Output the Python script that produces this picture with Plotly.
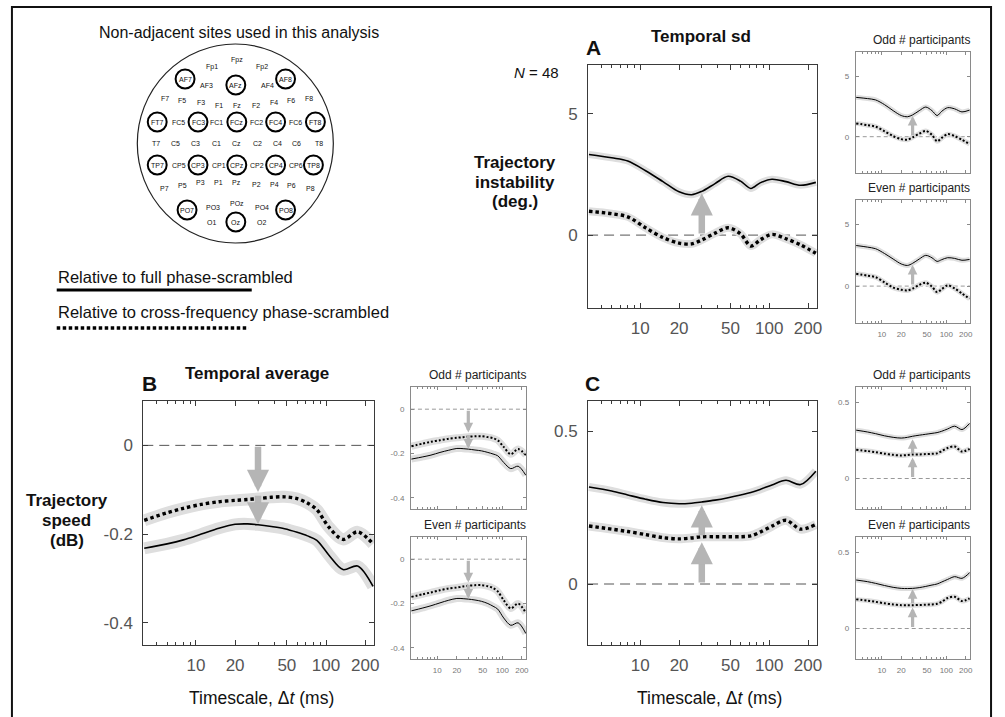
import math
import plotly.graph_objects as go

W, H = 1005, 717
FONT = "Liberation Sans, Arial, Helvetica, sans-serif"

# ---------------- data ----------------
timescale_ms = [4, 6, 8, 11, 15, 20, 25, 30, 38, 48, 60, 72, 85, 105, 135, 175, 230]

# Panel A (temporal sd, trajectory instability, deg.)
A_full = [3.32, 3.18, 3.05, 2.65, 2.2, 1.78, 1.66, 1.8, 2.12, 2.42, 2.22, 1.92, 2.15, 2.3, 2.2, 2.05, 2.17]
A_cross = [0.98, 0.88, 0.75, 0.3, -0.1, -0.33, -0.36, -0.2, 0.08, 0.3, 0.05, -0.45, -0.2, 0.03, -0.15, -0.4, -0.75]
A_full_odd = [3.25, 3.15, 3.04, 2.65, 2.15, 1.75, 1.65, 1.8, 2.15, 2.45, 2.15, 1.75, 2.1, 2.4, 2.3, 2.05, 2.2]
A_cross_odd = [1.1, 0.95, 0.83, 0.45, 0.05, -0.2, -0.25, -0.05, 0.25, 0.48, 0.15, -0.38, -0.1, 0.21, 0.05, -0.25, -0.6]
A_full_even = [3.3, 3.17, 3.04, 2.65, 2.2, 1.8, 1.68, 1.85, 2.2, 2.5, 2.3, 2.01, 2.15, 2.31, 2.25, 2.1, 2.17]
A_cross_even = [1.0, 0.85, 0.73, 0.3, -0.12, -0.3, -0.35, -0.2, 0.1, 0.28, -0.05, -0.49, -0.25, 0.06, -0.2, -0.6, -1.03]

# Panel B (temporal average, trajectory speed, dB)
B_full = [-0.232, -0.222, -0.213, -0.2, -0.187, -0.178, -0.177, -0.179, -0.183, -0.188, -0.196, -0.204, -0.214, -0.247, -0.28, -0.272, -0.318]
B_cross = [-0.169, -0.152, -0.142, -0.133, -0.127, -0.124, -0.122, -0.12, -0.117, -0.116, -0.12, -0.13, -0.145, -0.184, -0.212, -0.195, -0.222]
B_full_odd = [-0.225, -0.215, -0.207, -0.195, -0.185, -0.177, -0.178, -0.18, -0.184, -0.188, -0.195, -0.202, -0.21, -0.24, -0.268, -0.257, -0.298]
B_cross_odd = [-0.167, -0.155, -0.147, -0.14, -0.133, -0.129, -0.126, -0.124, -0.122, -0.122, -0.126, -0.131, -0.14, -0.17, -0.203, -0.18, -0.207]
B_full_even = [-0.233, -0.22, -0.21, -0.197, -0.185, -0.177, -0.178, -0.18, -0.184, -0.19, -0.2, -0.212, -0.225, -0.265, -0.298, -0.287, -0.335]
B_cross_even = [-0.17, -0.158, -0.15, -0.14, -0.132, -0.128, -0.123, -0.12, -0.117, -0.117, -0.122, -0.13, -0.145, -0.185, -0.222, -0.2, -0.242]

# Panel C
C_full = [0.318, 0.305, 0.292, 0.278, 0.267, 0.263, 0.265, 0.269, 0.275, 0.283, 0.292, 0.3, 0.31, 0.325, 0.34, 0.326, 0.37]
C_cross = [0.19, 0.18, 0.172, 0.162, 0.152, 0.148, 0.151, 0.155, 0.155, 0.155, 0.155, 0.158, 0.17, 0.19, 0.209, 0.18, 0.195]
C_full_odd = [0.317, 0.305, 0.294, 0.28, 0.27, 0.265, 0.27, 0.277, 0.284, 0.29, 0.296, 0.301, 0.31, 0.325, 0.343, 0.321, 0.361]
C_cross_odd = [0.188, 0.18, 0.173, 0.163, 0.155, 0.151, 0.154, 0.157, 0.158, 0.16, 0.162, 0.165, 0.18, 0.2, 0.21, 0.177, 0.195]
C_full_even = [0.318, 0.307, 0.296, 0.282, 0.27, 0.263, 0.262, 0.263, 0.268, 0.276, 0.285, 0.292, 0.305, 0.322, 0.34, 0.329, 0.366]
C_cross_even = [0.191, 0.183, 0.175, 0.165, 0.158, 0.153, 0.153, 0.153, 0.154, 0.156, 0.158, 0.162, 0.175, 0.2, 0.208, 0.18, 0.197]

# arrows at dt = 30 ms: (tail, tip)
arrow_dt = 30
A_arrows = [(0, 1.72)]
B_arrows = [(0, -0.105), (-0.11, -0.178)]
C_arrows = [(0, 0.137), (0.155, 0.258)]

x_ticks = [10, 20, 50, 100, 200]
x_minor = [4, 5, 6, 7, 8, 9, 30, 40, 60, 70, 80, 90]
A_yticks, A_ylabels = [0, 5], ["0", "5"]
B_yticks, B_ylabels = [0, -0.2, -0.4], ["0", "-0.2", "-0.4"]
C_yticks, C_ylabels = [0, 0.5], ["0", "0.5"]

electrode_rows = [
    ["Fp1", "Fpz", "Fp2"],
    ["AF7", "AF3", "AFz", "AF4", "AF8"],
    ["F7", "F5", "F3", "F1", "Fz", "F2", "F4", "F6", "F8"],
    ["FT7", "FC5", "FC3", "FC1", "FCz", "FC2", "FC4", "FC6", "FT8"],
    ["T7", "C5", "C3", "C1", "Cz", "C2", "C4", "C6", "T8"],
    ["TP7", "CP5", "CP3", "CP1", "CPz", "CP2", "CP4", "CP6", "TP8"],
    ["P7", "P5", "P3", "P1", "Pz", "P2", "P4", "P6", "P8"],
    ["PO7", "PO3", "POz", "PO4", "PO8"],
    ["O1", "Oz", "O2"],
]
used_sites = ["AF7", "AFz", "AF8", "FT7", "FC3", "FCz", "FC4", "FT8",
              "TP7", "CP3", "CPz", "CP4", "TP8", "PO7", "PO8", "Oz"]

# ---------------- layout helpers ----------------
def px(x):
    return x / W

def py(y):
    return 1 - y / H

# electrode drawing positions (pixels), layout only
row_pos = [
    [(213, 67), (238, 60), (263, 67)],
    [(186, 79), (208, 86), (237, 85), (269, 86), (287, 79)],
    [(166, 99), (183, 100), (202, 103), (220, 105), (238, 105), (257, 105), (275, 103), (292, 100), (311, 99)],
    [(158, 122), (179, 122), (199, 122), (218, 122), (238, 122), (258, 122), (277, 122), (297, 122), (317, 122)],
    [(157, 143), (176, 143), (196, 143), (218, 143), (238, 143), (259, 143), (279, 143), (298, 143), (321, 143)],
    [(158, 165), (180, 165), (199, 165), (220, 165), (238, 165), (258, 165), (277, 165), (297, 165), (315, 165)],
    [(165, 188), (183, 185), (202, 183), (220, 183), (238, 183), (258, 184), (276, 184), (293, 185), (312, 188)],
    [(188, 210), (214, 207), (238, 203), (263, 207), (287, 210)],
    [(213, 222), (237, 222), (263, 222)],
]

XR = [0.595, 2.37]

panels = [
    dict(x=(591, 821), y=(65, 308), yr=[-3, 7], yt=A_yticks, yl=A_ylabels, full=A_full, cross=A_cross, arrows=A_arrows, main=True, halo=(7, 8)),
    dict(x=(860, 975), y=(52, 173), yr=[-3, 7], yt=A_yticks, yl=A_ylabels, full=A_full_odd, cross=A_cross_odd, arrows=A_arrows, main=False, halo=(5, 5), title="Odd # participants", xlab=False),
    dict(x=(860, 975), y=(200, 323), yr=[-3, 7], yt=A_yticks, yl=A_ylabels, full=A_full_even, cross=A_cross_even, arrows=A_arrows, main=False, halo=(5, 5), title="Even # participants", xlab=True),
    dict(x=(144, 376), y=(401, 645), yr=[-0.45, 0.1], yt=B_yticks, yl=B_ylabels, full=B_full, cross=B_cross, arrows=B_arrows, main=True, halo=(12, 12)),
    dict(x=(413, 529), y=(387, 509), yr=[-0.45, 0.1], yt=B_yticks, yl=B_ylabels, full=B_full_odd, cross=B_cross_odd, arrows=B_arrows, main=False, halo=(7, 7), title="Odd # participants", xlab=False),
    dict(x=(413, 529), y=(537, 659), yr=[-0.45, 0.1], yt=B_yticks, yl=B_ylabels, full=B_full_even, cross=B_cross_even, arrows=B_arrows, main=False, halo=(7, 7), title="Even # participants", xlab=True),
    dict(x=(591, 821), y=(401, 645), yr=[-0.2, 0.6], yt=C_yticks, yl=C_ylabels, full=C_full, cross=C_cross, arrows=C_arrows, main=True, halo=(8, 9)),
    dict(x=(860, 975), y=(387, 509), yr=[-0.2, 0.6], yt=C_yticks, yl=C_ylabels, full=C_full_odd, cross=C_cross_odd, arrows=C_arrows, main=False, halo=(5, 5), title="Odd # participants", xlab=False),
    dict(x=(860, 975), y=(537, 659), yr=[-0.2, 0.6], yt=C_yticks, yl=C_ylabels, full=C_full_even, cross=C_cross_even, arrows=C_arrows, main=False, halo=(5, 5), title="Even # participants", xlab=True),
]

fig = go.Figure()
layout = {}
shapes = []
annotations = []

for i, p in enumerate(panels):
    k = "" if i == 0 else str(i + 1)
    xa, ya = "x" + k, "y" + k
    main = p["main"]
    axcol = "#3a3a3a" if main else "#8a8a8a"
    tkcol = "#555555" if main else "#777777"
    tfs = 17 if main else 8
    tl = 5 if main else 3
    show_xlab = main or p.get("xlab", False)
    layout["xaxis" + k] = dict(
        domain=[px(p["x"][0]), px(p["x"][1])], anchor=ya, type="log", range=XR,
        tickmode="array", tickvals=x_ticks, ticktext=[str(v) for v in x_ticks],
        showticklabels=show_xlab, ticks="inside", ticklen=tl, tickcolor=axcol, tickwidth=1,
        minor=dict(tickmode="array", tickvals=x_minor, ticks="inside", ticklen=max(2, tl - 2), tickcolor=axcol),
        showline=True, linecolor=axcol, linewidth=1, mirror="ticks",
        showgrid=False, zeroline=False,
        tickfont=dict(family=FONT, size=tfs, color=tkcol),
        ticklabelstandoff=5 if main else 3,
    )
    layout["yaxis" + k] = dict(
        domain=[py(p["y"][1]), py(p["y"][0])], anchor=xa, range=p["yr"],
        tickmode="array", tickvals=p["yt"], ticktext=p["yl"],
        ticks="inside", ticklen=tl, tickcolor=axcol, tickwidth=1,
        showline=True, linecolor=axcol, linewidth=1, mirror="ticks",
        showgrid=False, zeroline=False,
        tickfont=dict(family=FONT, size=tfs, color=tkcol),
        ticklabelstandoff=6 if main else 4,
    )
    shapes.append(dict(type="line", xref=xa + " domain", yref=ya, x0=0, x1=1, y0=0, y1=0,
                       line=dict(color="#555555" if main else "#999999", width=1,
                                 dash="10px,6px" if main else "4px,3px"), layer="below"))
    hw_full, hw_cross = p["halo"]
    lw_full = 1.6 if main else 1.0
    lw_cross = 3.4 if main else 2
    dot_main = "3.4px,3px" if main else "2px,2px"
    for vals, hw, lw, dash in ((p["full"], hw_full, lw_full, "solid"), (p["cross"], hw_cross, lw_cross, dot_main)):
        fig.add_trace(go.Scatter(x=timescale_ms, y=vals, xaxis=xa, yaxis=ya, mode="lines",
                                 line=dict(color="#dedede", width=hw, shape="spline", smoothing=0.9),
                                 hoverinfo="skip", showlegend=False))
        fig.add_trace(go.Scatter(x=timescale_ms, y=vals, xaxis=xa, yaxis=ya, mode="lines",
                                 line=dict(color="black", width=lw, dash=dash, shape="spline", smoothing=0.9),
                                 showlegend=False))
    for tail, tip in p["arrows"]:
        annotations.append(dict(x=math.log10(arrow_dt), y=tip, ax=math.log10(arrow_dt), ay=tail,
                                xref=xa, yref=ya, axref=xa, ayref=ya, text="", showarrow=True,
                                arrowhead=2, arrowcolor="#b5b5b5",
                                arrowwidth=6.5 if main else 3.2,
                                arrowsize=0.68 if main else 0.6,
                                standoff=0, startstandoff=0))
    if not main:
        annotations.append(dict(x=px(p["x"][1] + 2), y=py(p["y"][0] - 12), xref="paper", yref="paper",
                                text=p["title"], showarrow=False, xanchor="right", yanchor="middle",
                                font=dict(family=FONT, size=12, color="#222")))

# ---------------- text ----------------
def txt(x, y, t, size, bold=False, xanchor="center", color="#111"):
    annotations.append(dict(x=px(x), y=py(y), xref="paper", yref="paper", text=("<b>%s</b>" % t) if bold else t,
                            showarrow=False, xanchor=xanchor, yanchor="middle",
                            font=dict(family=FONT, size=size, color=color)))

txt(240, 33, "Non-adjacent sites used in this analysis", 16)
txt(56, 277, "Relative to full phase-scrambled", 16.5, xanchor="left")
txt(56, 312, "Relative to cross-frequency phase-scrambled", 16.5, xanchor="left")
shapes.append(dict(type="line", xref="paper", yref="paper", x0=px(57), x1=px(253), y0=py(290), y1=py(290),
                   line=dict(color="black", width=3)))
shapes.append(dict(type="line", xref="paper", yref="paper", x0=px(57), x1=px(250), y0=py(328), y1=py(328),
                   line=dict(color="black", width=3.5, dash="3.5px,2.5px")))

txt(596, 47, "A", 21, bold=True)
txt(705, 37, "Temporal sd", 17, bold=True)
txt(564, 72, "<i>N</i> = 48", 15, xanchor="right")
for j, line in enumerate(["Trajectory", "instability", "(deg.)"]):
    txt(518, 162 + 20 * j, line, 17, bold=True)

txt(150, 383, "B", 21, bold=True)
txt(258, 373, "Temporal average", 17, bold=True)
for j, line in enumerate(["Trajectory", "speed", "(dB)"]):
    txt(67, 500 + 20 * j, line, 17, bold=True)

txt(595, 383, "C", 21, bold=True)
txt(263, 698, "Timescale, Δ<i>t</i> (ms)", 17.5)
txt(713, 698, "Timescale, Δ<i>t</i> (ms)", 17.5)

# ---------------- electrode map ----------------
shapes.append(dict(type="circle", xref="paper", yref="paper", x0=px(138), x1=px(335), y0=py(243), y1=py(44),
                   line=dict(color="#222", width=1.2)))
for names, poss in zip(electrode_rows, row_pos):
    for name, (ex, ey) in zip(names, poss):
        if name in used_sites:
            shapes.append(dict(type="circle", xref="paper", yref="paper",
                               x0=px(ex - 9.5), x1=px(ex + 9.5), y0=py(ey + 9.5), y1=py(ey - 9.5),
                               line=dict(color="black", width=2)))
        annotations.append(dict(x=px(ex), y=py(ey), xref="paper", yref="paper", text=name, showarrow=False,
                                xanchor="center", yanchor="middle",
                                font=dict(family=FONT, size=7, color="#111")))

# outer frame
shapes.append(dict(type="rect", xref="paper", yref="paper", x0=px(12), x1=px(996), y0=py(740), y1=py(7),
                   line=dict(color="#111", width=2)))

fig.update_layout(
    width=W, height=H, margin=dict(l=0, r=0, t=0, b=0),
    paper_bgcolor="white", plot_bgcolor="white",
    showlegend=False, shapes=shapes, annotations=annotations,
    font=dict(family=FONT),
    **layout,
)

fig.write_html("out.html")
